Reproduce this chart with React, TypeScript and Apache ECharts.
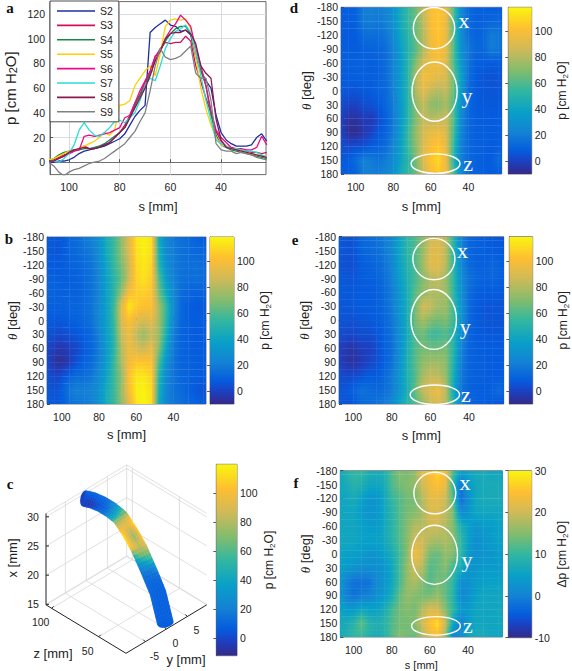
import React, { useEffect, useRef } from "react";
import * as echarts from "echarts";

const FONT = '"Liberation Sans", Arial, sans-serif';
const SERIF = '"Liberation Serif", serif';

// ---------- panel a ----------
const lineS = [108,106,104,102,100,98,96,94,92,90,88,86,84,82,80,78,76,74,72,70,68,66,64,62,60,58,56,54,52,50,48,46,44,42,40,38,36,34,32,30,28,26,24,22];
const S2 = [0,0,1,1,2,4,7,9,10,11,12,13,15,17,19,23,30,37,42,46,105,109,112,115,111,110,106,107,103,85,74,66,60,38,24,18,15,13,13,13,14,20,23,17];
const S3 = [0,2,4,6,7,9,11,13,11,11,13,14,16,20,24,30,38,48,55,65,72,85,92,97,96,97,97,102,98,78,65,52,40,25,17,13,11,10,10,9,8,8,7,8];
const S4 = [1,3,6,8,9,10,10,11,11,12,13,15,18,21,24,28,36,46,54,62,72,82,90,98,104,108,110,110,104,88,74,62,38,22,14,12,10,9,8,7,6,5,4,3];
const S5 = [2,3,5,7,9,9,11,13,15,17,20,24,22,26,46,47,50,62,68,74,78,70,88,110,115,116,115,116,108,85,60,43,30,20,14,13,11,10,9,8,7,6,5,5];
const S6 = [0,1,3,5,7,9,10,21,22,21,22,23,24,26,28,36,38,48,58,66,74,86,90,100,107,112,119,115,110,92,78,62,42,26,20,16,12,11,11,10,10,12,21,14];
const S7 = [1,1,0,3,7,14,26,32,26,22,21,24,28,33,34,32,36,40,50,62,68,66,78,92,100,106,108,111,105,90,70,50,34,18,15,13,11,11,10,9,9,8,6,4];
const S8 = [1,1,3,5,8,10,11,12,11,11,12,14,16,20,24,28,36,44,52,60,70,82,90,100,104,105,105,107,104,96,78,72,68,35,18,12,11,10,9,8,7,6,5,4];
const S9 = [0,-3,-8,-11,-8,-6,-5,-3,-1,0,1,3,6,9,12,15,20,25,33,40,58,78,92,85,83,84,86,90,94,72,68,68,50,15,10,9,9,7,8,7,6,4,3,2];
const lineNames = ["S2","S3","S4","S5","S6","S7","S8","S9"];
const lineValues = [S2,S3,S4,S5,S6,S7,S8,S9];
const lineColors = ["#1c2f9c","#cf1060","#16894a","#ffcf00","#ee0a84","#28dcd8","#8a1a50","#808080"];

// ---------- heat maps ----------
const colS = [108,104,100,96,92,88,84,80,76,72,68,64,60,56,52,48,44,40,36,32,28,24,20];
const rowTheta = [-180,-150,-120,-90,-60,-30,0,30,60,90,120,150,180];
const panelB = [
[8,6,7,12,14,18,22,30,45,55,72,92,114,118,113,44,24,18,15,13,10,8,8],
[8,6,7,11,13,16,20,28,44,56,72,90,112,117,112,48,26,20,16,14,12,12,10],
[9,7,8,10,11,13,17,25,40,55,68,86,110,115,109,52,28,20,16,15,16,14,10],
[11,9,9,9,10,12,16,24,38,52,64,86,108,113,106,62,34,22,16,14,16,14,10],
[11,10,10,10,10,12,16,24,38,52,74,100,106,107,103,68,42,24,14,11,10,10,10],
[10,9,10,11,11,13,17,25,38,56,92,115,106,102,102,78,55,26,12,9,7,7,8],
[9,7,7,9,10,12,16,26,38,56,90,102,93,88,93,78,52,24,12,9,8,8,8],
[6,3,3,5,7,9,13,22,36,52,84,96,82,74,84,76,46,20,11,9,8,8,8],
[2,-3,-4,-1,2,7,12,20,34,52,80,96,89,85,94,72,38,18,11,9,8,8,8],
[3,-6,-7,-2,5,10,14,22,36,55,78,98,104,104,102,60,30,17,11,10,9,8,8],
[6,1,4,10,14,14,18,26,40,56,72,102,114,114,108,52,26,16,12,10,9,8,8],
[7,4,9,18,22,20,24,30,44,56,74,100,116,118,111,48,24,16,13,10,7,5,6],
[8,6,8,14,18,18,22,30,45,55,72,92,114,118,113,44,24,18,15,13,10,8,8],
];
const panelD = [
[9,8,10,20,22,20,24,30,45,55,66,84,100,104,96,60,26,12,10,9,8,8,8],
[9,8,10,19,20,18,22,30,44,55,66,82,100,104,96,60,26,13,10,10,12,12,9],
[8,7,8,14,15,14,18,26,42,52,66,80,98,104,96,60,28,14,10,12,20,18,10],
[9,8,8,10,10,11,15,22,38,50,62,78,96,102,94,60,30,18,12,12,20,18,10],
[9,9,10,10,9,10,14,22,36,52,70,88,96,98,92,60,34,16,9,8,8,8,8],
[8,8,9,9,9,10,14,22,36,52,80,98,96,92,90,66,38,14,8,6,5,6,7],
[8,6,6,7,8,10,13,22,36,52,80,92,84,80,84,66,36,13,8,6,6,6,6],
[4,1,0,4,5,7,12,20,34,52,72,84,72,70,78,60,30,12,8,7,7,7,7],
[1,-6,-6,-2,-3,3,10,18,34,52,70,84,80,82,86,62,26,12,9,8,8,8,8],
[2,-8,-9,-4,0,6,11,20,36,56,74,88,94,96,90,58,24,12,9,9,8,8,8],
[5,2,4,4,8,10,14,24,38,56,72,90,100,104,94,54,22,12,10,9,8,8,8],
[7,8,14,22,20,16,20,26,40,52,68,90,104,110,96,50,22,12,10,8,8,14,8],
[9,8,10,20,22,20,24,30,45,55,66,84,100,104,96,60,26,12,10,9,8,8,8],
];
const panelE = [
[8,5,5,12,14,16,20,26,40,52,60,72,86,88,80,50,22,12,10,9,7,6,6],
[8,5,5,11,13,14,18,26,40,52,60,74,90,92,82,50,22,12,10,9,8,8,6],
[7,4,4,8,10,12,16,24,38,50,60,76,92,92,82,52,24,13,10,9,12,10,7],
[8,6,6,8,9,10,14,22,36,48,58,70,80,84,74,52,26,16,12,10,12,10,7],
[8,7,7,8,8,9,13,20,32,46,62,72,78,78,76,52,28,14,9,8,8,8,7],
[7,6,7,8,8,9,12,20,32,46,66,88,84,76,76,56,30,13,8,6,6,6,6],
[7,5,5,6,7,8,11,18,30,46,68,78,70,66,70,56,30,12,8,6,6,6,6],
[5,2,2,4,4,6,10,16,28,44,62,66,56,56,60,50,26,11,8,7,7,7,7],
[1,-4,-5,-1,-1,3,9,15,28,46,60,68,66,66,68,50,22,11,9,8,8,8,8],
[2,-5,-6,-3,1,4,9,16,30,48,62,72,76,76,72,48,20,11,9,9,8,8,8],
[5,2,3,5,8,8,12,20,32,48,60,78,84,82,74,44,18,11,10,9,8,8,8],
[6,6,10,16,14,12,14,20,32,46,64,84,90,96,82,40,16,10,9,8,10,14,7],
[8,5,6,12,14,16,20,26,40,52,60,72,86,88,80,50,22,12,10,9,7,6,6],
];
const panelF = [
[6,8,10,10,8,7,8,12,15,14,16,22,25,27,24,12,5,6,7,7,6,6,6],
[6,7,9,8,6,6,7,12,14,15,16,20,23,25,23,10,-2,4,6,7,7,7,6],
[6,6,7,5,3,3,6,10,12,14,14,18,22,22,20,12,-3,2,6,7,7,7,6],
[6,6,6,4,3,3,6,9,12,14,15,17,21,21,19,15,1,3,6,6,6,6,6],
[6,6,6,5,4,4,6,9,12,15,18,18,20,20,18,15,8,5,3,4,4,5,5],
[6,6,6,5,5,5,6,9,12,15,20,20,18,17,18,16,10,5,2,3,4,5,5],
[6,5,5,4,3,3,5,7,11,15,24,20,14,13,16,15,10,4,2,3,3,4,4],
[5,4,3,2,2,2,3,6,11,16,20,18,12,13,15,11,7,3,3,4,4,4,4],
[4,0,-2,-2,-2,1,3,6,11,16,18,15,12,14,13,10,2,2,4,5,5,5,5],
[4,0,-2,-1,0,2,4,7,13,16,15,14,14,16,13,9,1,2,5,6,6,6,6],
[6,4,4,6,5,5,7,11,14,15,14,18,21,20,15,10,4,4,6,6,6,6,6],
[7,7,9,13,9,8,9,12,14,14,15,20,25,28,20,6,-1,4,6,6,6,6,6],
[6,8,10,10,8,7,8,12,15,14,13,17,22,24,16,0,2,6,7,7,6,6,6],
];

// annotated regions: centre and half-spans in data units, letter position
const regionNames = ["x","y","z"];
const regionD = { s:[58.3,58,57.5], t:[-135,2,157.6], rs:[11,12,13], rt:[44.6,64,21], ls:[42.4,40.8,40.2], lt:[-152,9.4,157] };
const regionE = { s:[58.2,58.3,57.7], t:[-132,-2,160], rs:[10.9,11.8,12.8], rt:[44.5,64.5,20.8], ls:[43.3,42,41.6], lt:[-151,13.7,160.6] };
const regionF = { s:[57.4,57.5,56.8], t:[-131.5,2,156], rs:[11,12,12.8], rt:[45,64,20], ls:[41.6,40.5,40], lt:[-154,12.5,156] };

// colour map
const parula: [number, number[]][] = [
  [0, [53,42,135]], [0.07, [30,62,190]], [0.14, [5,92,222]], [0.25, [20,130,212]], [0.37, [8,160,200]],
  [0.5, [50,183,160]], [0.62, [130,188,110]], [0.75, [208,186,88]], [0.87, [254,190,50]], [1, [249,245,14]],
];
function colorOf(t: number) {
  const v = Math.max(0, Math.min(1, t));
  for (let i = 1; i < parula.length; i++) {
    if (v <= parula[i][0]) {
      const [a, ca] = parula[i - 1];
      const [b, cb] = parula[i];
      const f = (v - a) / (b - a);
      const c = ca.map((x, k) => Math.round(x + (cb[k] - x) * f));
      return `rgb(${c[0]},${c[1]},${c[2]})`;
    }
  }
  return "rgb(249,245,14)";
}
function shade(rows: number[][], fi: number, fj: number) {
  const i = Math.max(0, Math.min(colS.length - 2, Math.floor(fi)));
  const j = Math.max(0, Math.min(rowTheta.length - 2, Math.floor(fj)));
  const a = Math.max(0, Math.min(1, fi - i));
  const b = Math.max(0, Math.min(1, fj - j));
  return (rows[j][i] * (1 - a) + rows[j][i + 1] * a) * (1 - b) + (rows[j + 1][i] * (1 - a) + rows[j + 1][i + 1] * a) * b;
}

const axisText = { fontFamily: FONT, fontSize: 10.5, color: "#222" };
const pName = "{n|p [cm H}{s|2}{n|O]}";
const dpName = "{n|Δp [cm H}{s|2}{n|O]}";
const nameRich = (size = 13) => ({
  n: { fontFamily: FONT, fontSize: size, color: "#222", lineHeight: 15 },
  s: { fontFamily: FONT, fontSize: size - 4, color: "#222", lineHeight: 15, verticalAlign: "bottom" as const },
  t: { fontFamily: SERIF, fontStyle: "italic" as const, fontSize: size, color: "#222" },
});

const heatPanels = [
  { rows: panelB, left: 47, top: 237, w: 159, h: 167, sMin: 22.5, sMax: 108, cbLeft: 210, cbW: 24, lo: -10, hi: 118.5, ticks: [0,20,40,60,80,100], name: pName, sSize: 13, sGap: 24, region: null as any },
  { rows: panelD, left: 341, top: 7.3, w: 160.7, h: 166.7, sMin: 22.3, sMax: 107.8, cbLeft: 508.3, cbW: 23.4, lo: -10, hi: 118.5, ticks: [0,20,40,60,80,100], name: pName, sSize: 13, sGap: 26, region: regionD },
  { rows: panelE, left: 339, top: 236.7, w: 164.7, h: 167.3, sMin: 22, sMax: 107.4, cbLeft: 509.3, cbW: 23.4, lo: -10, hi: 118.5, ticks: [0,20,40,60,80,100], name: pName, sSize: 13, sGap: 25, region: regionE },
  { rows: panelF, left: 340.3, top: 470.7, w: 162, h: 167, sMin: 22, sMax: 107, cbLeft: 508.3, cbW: 23.4, lo: -10, hi: 30, ticks: [-10,0,10,20,30], name: dpName, sSize: 11, sGap: 22, region: regionF },
];

// ---------- panel c: tube in a fixed oblique view ----------
const tubeZ = [108,100,90,80,70,60,50,40,30,22];
const tubeX = [28.8,29.3,29.6,29.6,29.3,27.8,25.9,23.2,20.3,15.8];
const cTicksX = [15,20,25,30];
const cTicksY = [-5,0,5];
const cTicksZ = [100,50];
const zFrac = (z: number) => (106 - z) / 85;
const yFrac = (y: number) => (y + 9.6) / 19.2;
function project(x: number, y: number, z: number): [number, number] {
  const zf = zFrac(z), yf = yFrac(y);
  return [46 + 80 * zf + 80.7 * yf, 604.3 + 48.4 * zf - 48.4 * yf - 5.83 * (x - 15)];
}
const X0 = 14.9, X1 = 30.6, Y0 = -9.6, Y1 = 9.6, Z0 = 106, Z1 = 21;
type Seg = [number, number, number, number, number];
function seg(a: [number, number], b: [number, number], k: number): Seg { return [a[0], a[1], b[0], b[1], k]; }
const frame: Seg[] = [];
cTicksX.concat([X1]).forEach((x) => {
  frame.push(seg(project(x, Y0, Z0), project(x, Y1, Z0), 0));
  frame.push(seg(project(x, Y1, Z0), project(x, Y1, Z1), 0));
});
cTicksY.forEach((y) => {
  frame.push(seg(project(X0, y, Z0), project(X1, y, Z0), 0));
  frame.push(seg(project(X0, y, Z0), project(X0, y, Z1), 0));
});
cTicksZ.forEach((z) => {
  frame.push(seg(project(X0, Y1, z), project(X1, Y1, z), 0));
  frame.push(seg(project(X0, Y0, z), project(X0, Y1, z), 0));
});
frame.push(seg(project(X0, Y1, Z0), project(X1, Y1, Z0), 0));
frame.push(seg(project(X0, Y0, Z0), project(X0, Y1, Z0), 0));
frame.push(seg(project(X0, Y1, Z0), project(X0, Y1, Z1), 0));
frame.push(seg(project(X0, Y0, Z0), project(X1, Y0, Z0), 1));
frame.push(seg(project(X0, Y0, Z0), project(X0, Y0, Z1), 1));
frame.push(seg(project(X0, Y0, Z1), project(X0, Y1, Z1), 1));
cTicksX.forEach((x) => { const p = project(x, Y0, Z0); frame.push(seg(p, [p[0] + 3, p[1]], 1)); });
cTicksZ.forEach((z) => { const p = project(X0, Y0, z); frame.push(seg(p, [p[0] + 2, p[1] - 2], 1)); });
cTicksY.forEach((y) => { const p = project(X0, y, Z1); frame.push(seg(p, [p[0] - 2, p[1] - 2], 1)); });

const cLabels: { u: number; v: number; text: string }[] = [
  ...cTicksX.map((x) => ({ u: 33, v: project(x, Y0, Z0)[1], text: String(x) })),
  ...cTicksZ.map((z) => { const p = project(X0, Y0, z); return { u: p[0] - 11, v: p[1] + 14, text: String(z) }; }),
  ...cTicksY.map((y) => { const p = project(X0, y, Z1); return { u: p[0] + 9, v: p[1] + 14, text: String(y) }; }),
];

function tubeCentre(z: number): [number, number, number] {
  let i = 0;
  while (i < tubeZ.length - 2 && z < tubeZ[i + 1]) i++;
  const f = (tubeZ[i] - z) / (tubeZ[i] - tubeZ[i + 1]);
  const x = tubeX[i] + (tubeX[i + 1] - tubeX[i]) * f;
  const p = project(x, 0, z);
  const zb = z - 1;
  let i2 = 0;
  while (i2 < tubeZ.length - 2 && zb < tubeZ[i2 + 1]) i2++;
  const f2 = (tubeZ[i2] - zb) / (tubeZ[i2] - tubeZ[i2 + 1]);
  const x2 = tubeX[i2] + (tubeX[i2 + 1] - tubeX[i2]) * f2;
  const q = project(x2, 0, zb);
  return [p[0], p[1], Math.atan2(q[1] - p[1], q[0] - p[0])];
}
const TUBE_R = 8;
const BANDS = 8;
const tubeStations = lineS;
const tubeCells: number[][] = [];
tubeStations.slice(0, -1).forEach((_, i) => { for (let b = 0; b < BANDS; b++) tubeCells.push([i, b]); });

function tubeEdge(z: number, phi: number): number[] {
  const [cx, cy, a] = tubeCentre(z);
  const o = TUBE_R * Math.sin(phi);
  return [cx + Math.sin(a) * o, cy - Math.cos(a) * o];
}

function buildOption() {
  const grids: any[] = [];
  const xAxes: any[] = [];
  const yAxes: any[] = [];
  const series: any[] = [];

  const tick = { show: true, inside: true, length: 3, lineStyle: { color: "#333", width: 0.8 } };
  const line = { show: true, lineStyle: { color: "#555", width: 0.8 } };

  // panel a
  grids.push({ left: 50, top: 1.6, width: 216, height: 173, show: true, borderColor: "#444", borderWidth: 0.8 });
  xAxes.push({
    gridIndex: 0, type: "value", inverse: true, min: 22.3, max: 107.5,
    axisLabel: { ...axisText, margin: 7, customValues: [100,80,60,40] },
    axisTick: { ...tick, customValues: [100,80,60,40] },
    axisLine: line,
    splitLine: { show: true, customValues: [100,80,60,40], lineStyle: { color: "#d9dbe2", width: 1 } },
    name: "s [mm]", nameLocation: "middle", nameGap: 25, nameTextStyle: { fontFamily: FONT, fontSize: 13, color: "#222" },
  });
  yAxes.push({
    gridIndex: 0, type: "value", min: -10, max: 130,
    axisLabel: { ...axisText, margin: 5, customValues: [0,20,40,60,80,100,120] },
    axisTick: { ...tick, customValues: [0,20,40,60,80,100,120] },
    axisLine: line,
    splitLine: { show: true, customValues: [0,20,40,60,80,100,120], lineStyle: { color: "#d9dbe2", width: 1 } },
    name: pName, nameLocation: "middle", nameGap: 32, nameRotate: 90, nameTextStyle: { rich: nameRich(15) },
  });
  lineNames.forEach((name, k) => {
    series.push({
      type: "line", name, xAxisIndex: 0, yAxisIndex: 0, showSymbol: false, symbol: "none",
      data: lineS.map((s, i) => [s, lineValues[k][i]]),
      lineStyle: { color: lineColors[k], width: 1.3 }, itemStyle: { color: lineColors[k] }, z: 2 + k * 0.01,
    });
  });

  // heat panels and colour bars
  heatPanels.forEach((p) => {
    const idx = grids.length;
    grids.push({ left: p.left, top: p.top, width: p.w, height: p.h, show: true, borderColor: "#555", borderWidth: 0.8 });
    xAxes.push({
      gridIndex: idx, type: "value", inverse: true, min: p.sMin, max: p.sMax,
      axisLabel: { ...axisText, margin: 7, customValues: [100,80,60,40] },
      axisTick: { ...tick, customValues: [100,80,60,40] },
      axisLine: line, splitLine: { show: false },
      name: "s [mm]", nameLocation: "middle", nameGap: p.sGap, nameTextStyle: { fontFamily: FONT, fontSize: p.sSize, color: "#222" },
    });
    yAxes.push({
      gridIndex: idx, type: "value", inverse: true, min: -180, max: 180, interval: 30,
      axisLabel: { ...axisText, margin: 3 },
      axisTick: tick, axisLine: line, splitLine: { show: false },
      name: "{t|θ}{n| [deg]}", nameLocation: "middle", nameGap: 27, nameRotate: 90, nameTextStyle: { rich: nameRich(13) },
    });
    const cells: number[][] = [];
    rowTheta.forEach((t, j) => colS.forEach((s, i) => cells.push([s, t, p.rows[j][i], i, j])));
    series.push({
      type: "custom", name: "heat", xAxisIndex: idx, yAxisIndex: idx, clip: true, z: 1, silent: true,
      encode: { x: 0, y: 1 }, data: cells,
      renderItem: (_: any, api: any) => {
        const i = api.value(3), j = api.value(4);
        if (i >= colS.length - 1 || j >= rowTheta.length - 1) return null;
        const SUB = 4;
        const children: any[] = [];
        for (let m = 0; m < SUB; m++) {
          const t0 = rowTheta[j] + (30 * m) / SUB;
          const t1 = rowTheta[j] + (30 * (m + 1)) / SUB;
          const a = api.coord([colS[i], t0]);
          const b = api.coord([colS[i + 1], t1]);
          const fj = j + (m + 0.5) / SUB;
          const stops = [0, 0.25, 0.5, 0.75, 1].map((f) => ({
            offset: f,
            color: colorOf((shade(p.rows, i + f, fj) - p.lo) / (p.hi - p.lo)),
          }));
          children.push({
            type: "rect",
            shape: { x: a[0], y: a[1], width: b[0] - a[0] + 0.4, height: b[1] - a[1] + 0.4 },
            style: { fill: new echarts.graphic.LinearGradient(0, 0, 1, 0, stops) },
          });
        }
        return { type: "group", children };
      },
    });
    if (p.region) {
      const r = p.region;
      series.push({
        type: "custom", name: "regions", xAxisIndex: idx, yAxisIndex: idx, clip: false, z: 3, silent: true,
        encode: { x: 0, y: 1 },
        data: regionNames.map((_, k) => [r.s[k], r.t[k]]),
        renderItem: (params: any, api: any) => {
          const k = params.dataIndex;
          const c = api.coord([r.s[k], r.t[k]]);
          const e = api.coord([r.s[k] - r.rs[k], r.t[k] + r.rt[k]]);
          const l = api.coord([r.ls[k], r.lt[k]]);
          return {
            type: "group",
            children: [
              { type: "ellipse", shape: { cx: c[0], cy: c[1], rx: Math.abs(e[0] - c[0]), ry: Math.abs(e[1] - c[1]) },
                style: { fill: "rgba(0,0,0,0)", stroke: "#fff", lineWidth: 1.4 } },
              { type: "text", x: l[0], y: l[1],
                style: { text: regionNames[k], fill: "#fff", font: `22px ${SERIF}`, textAlign: "center", textVerticalAlign: "middle" } },
            ],
          };
        },
      });
    }
    addColorBar({ left: p.cbLeft, top: p.top, w: p.cbW, h: p.h, lo: p.lo, hi: p.hi, ticks: p.ticks, name: p.name, gap: 23 });
  });

  function addColorBar(c: any) {
    const i = grids.length;
    grids.push({ left: c.left, top: c.top, width: c.w, height: c.h, show: true, borderColor: "#555", borderWidth: 0.8 });
    xAxes.push({ gridIndex: i, type: "value", min: 0, max: 1, show: false });
    yAxes.push({
      gridIndex: i, type: "value", position: "right", min: c.lo, max: c.hi,
      axisLabel: { ...axisText, margin: 3, customValues: c.ticks },
      axisTick: { ...tick, customValues: c.ticks }, axisLine: line, splitLine: { show: false },
      name: c.name, nameLocation: "middle", nameGap: c.gap, nameRotate: 90, nameTextStyle: { rich: nameRich(12) },
    });
    series.push({
      type: "custom", name: "colorbar", xAxisIndex: i, yAxisIndex: i, clip: true, z: 1, silent: true,
      encode: { x: 0, y: 1 }, data: [[0, c.lo], [1, c.hi]],
      renderItem: (params: any, api: any) => {
        if (params.dataIndex !== 0) return null;
        const a = api.coord([0, c.hi]);
        const b = api.coord([1, c.lo]);
        const stops = parula.map(([o, col]) => ({ offset: 1 - o, color: `rgb(${col[0]},${col[1]},${col[2]})` })).reverse();
        return {
          type: "rect", shape: { x: a[0], y: a[1], width: b[0] - a[0], height: b[1] - a[1] },
          style: { fill: new echarts.graphic.LinearGradient(0, 0, 0, 1, stops) },
        };
      },
    });
  }

  // panel c: frame, tube, labels
  const ci = grids.length;
  grids.push({ left: 0, top: 455, width: 215, height: 216 });
  xAxes.push({ gridIndex: ci, type: "value", min: 0, max: 215, show: false });
  yAxes.push({ gridIndex: ci, type: "value", min: 455, max: 671, inverse: true, show: false });
  series.push({
    type: "custom", name: "frame", xAxisIndex: ci, yAxisIndex: ci, clip: false, z: 1, silent: true,
    encode: { x: 0, y: 1 }, data: frame,
    renderItem: (_: any, api: any) => {
      const a = api.coord([api.value(0), api.value(1)]);
      const b = api.coord([api.value(2), api.value(3)]);
      const dark = api.value(4) === 1;
      return { type: "line", shape: { x1: a[0], y1: a[1], x2: b[0], y2: b[1] },
        style: { stroke: dark ? "#222" : "#d8d8d8", lineWidth: dark ? 1 : 0.8 } };
    },
  });
  const capRows = [[0, tubeStations[0]], [1, tubeStations[tubeStations.length - 1]]];
  series.push({
    type: "custom", name: "tubeCaps", xAxisIndex: ci, yAxisIndex: ci, clip: false, z: 2, silent: true,
    encode: { x: 0, y: 1 }, data: capRows,
    renderItem: (params: any, api: any) => {
      const z = capRows[params.dataIndex][1];
      const c = tubeCentre(z);
      const p = api.coord([c[0], c[1]]);
      const val = params.dataIndex === 0 ? -2 : 6;
      return { type: "ellipse", shape: { cx: p[0], cy: p[1], rx: 4, ry: TUBE_R }, rotation: -c[2], originX: p[0], originY: p[1],
        style: { fill: colorOf((val + 12) / 132) } };
    },
  });
  series.push({
    type: "custom", name: "tube", xAxisIndex: ci, yAxisIndex: ci, clip: false, z: 3, silent: true,
    encode: { x: 0, y: 1 }, data: tubeCells,
    renderItem: (_: any, api: any) => {
      const st = api.value(0), b = api.value(1);
      const z0 = tubeStations[st], z1 = tubeStations[st + 1];
      const p0 = -Math.PI / 2 + (Math.PI * b) / BANDS;
      const p1 = -Math.PI / 2 + (Math.PI * (b + 1)) / BANDS;
      const pts = [tubeEdge(z0, p0), tubeEdge(z0, p1), tubeEdge(z1, p1), tubeEdge(z1, p0)].map((q) => api.coord(q));
      const phi = (p0 + p1) / 2;
      const theta = 45 - (phi * 180) / Math.PI;
      const zm = (z0 + z1) / 2;
      const fill = colorOf((shade(panelB, (108 - zm) / 4, (theta + 180) / 30) + 12) / 132);
      return { type: "polygon", shape: { points: pts }, style: { fill, stroke: fill, lineWidth: 0.6 } };
    },
  });
  series.push({
    type: "custom", name: "axisLabels3d", xAxisIndex: ci, yAxisIndex: ci, clip: false, z: 4, silent: true,
    encode: { x: 0, y: 1 }, data: cLabels.map((l) => [l.u, l.v]),
    renderItem: (params: any, api: any) => {
      const l = cLabels[params.dataIndex];
      const p = api.coord([l.u, l.v]);
      return { type: "text", x: p[0], y: p[1],
        style: { text: l.text, fill: "#222", font: `10.5px ${FONT}`, textAlign: "center", textVerticalAlign: "middle" } };
    },
  });
  addColorBar({ left: 216.3, top: 464.3, w: 20.7, h: 191.4, lo: -12, hi: 120, ticks: [0,20,40,60,80,100], name: pName, gap: 24 });

  const panelLetters: [string, number, number][] = [["a",10,8],["b",9,239],["c",10,484],["d",294,8],["e",295,240],["f",296,483]];
  const graphic: any[] = panelLetters.map(([t, x, y]) => ({
    type: "text", x, y, style: { text: t, fill: "#111", font: `bold 15px ${SERIF}`, textAlign: "center", textVerticalAlign: "middle" },
  }));
  graphic.push({ type: "text", x: 12, y: 558, rotation: Math.PI / 2,
    style: { text: "x [mm]", fill: "#222", font: `13px ${FONT}`, textAlign: "center", textVerticalAlign: "middle" } });
  graphic.push({ type: "text", x: 53, y: 653, style: { text: "z [mm]", fill: "#222", font: `13px ${FONT}`, textAlign: "center", textVerticalAlign: "middle" } });
  graphic.push({ type: "text", x: 186, y: 659, style: { text: "y [mm]", fill: "#222", font: `13px ${FONT}`, textAlign: "center", textVerticalAlign: "middle" } });

  return {
    animation: false,
    backgroundColor: "#fff",
    grid: grids,
    xAxis: xAxes,
    yAxis: yAxes,
    series,
    graphic,
    legend: {
      show: true, data: lineNames, orient: "vertical", left: 50, top: 1, padding: [4, 6, 4, 7], icon: "rect", itemWidth: 38, itemHeight: 1.6, itemGap: 2.4,
      backgroundColor: "#fff", borderColor: "#222", borderWidth: 0.8, selectedMode: false,
      textStyle: { fontFamily: FONT, fontSize: 10.5, color: "#222", lineHeight: 12 }, z: 10,
    },
  };
}

export default function App() {
  const ref = useRef<HTMLDivElement>(null);
  useEffect(() => {
    if (!ref.current) return;
    const chart = echarts.init(ref.current, undefined, { renderer: "svg" });
    chart.setOption(buildOption() as any);
    return () => chart.dispose();
  }, []);
  return <div ref={ref} style={{ position: "absolute", left: 0, top: 0, width: 572, height: 671 }} />;
}
